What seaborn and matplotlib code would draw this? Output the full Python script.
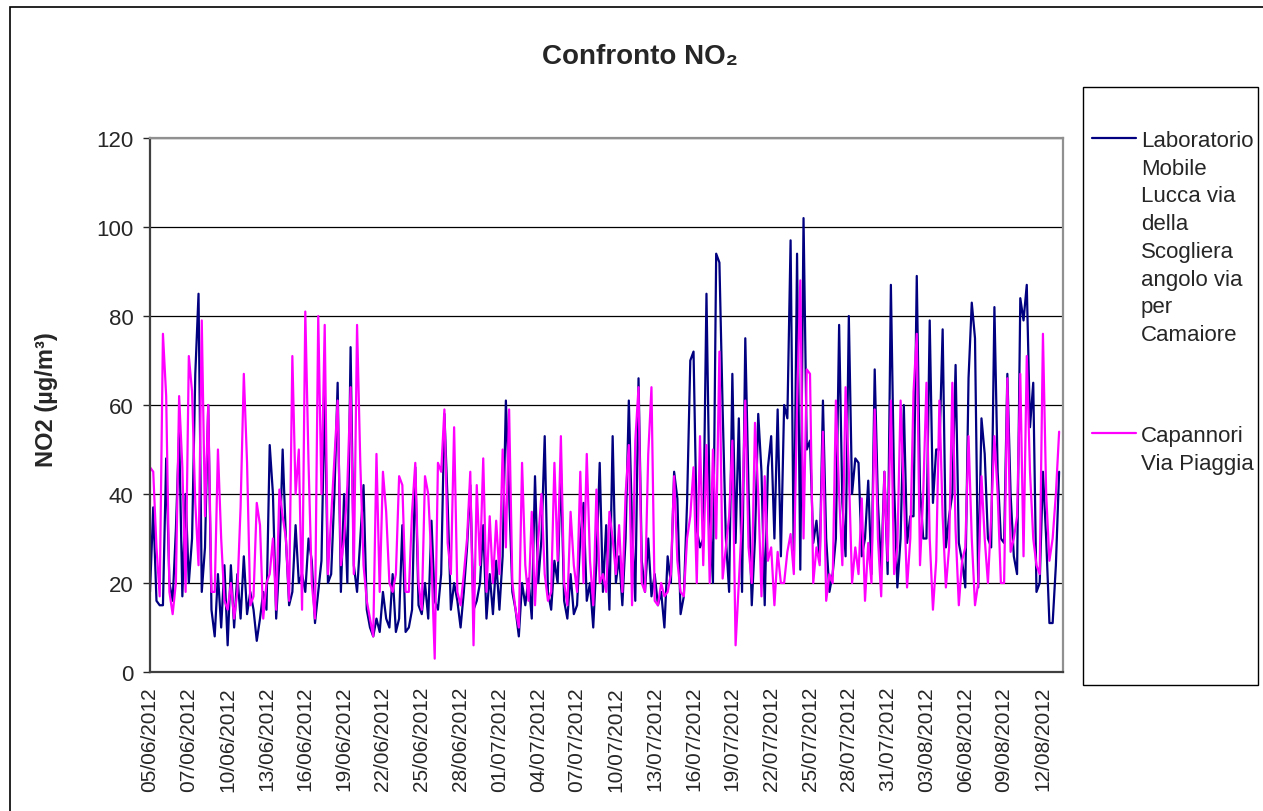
import matplotlib

matplotlib.use("Agg")
import matplotlib.pyplot as plt  # noqa: E402
import numpy as np  # noqa: E402
import pandas as pd  # noqa: E402
import seaborn as sns  # noqa: E402
from matplotlib.patches import Rectangle  # noqa: E402

# NO2 (ug/m3), four readings per day (every 6 h), 05/06 -> 14/08/2012
lab_lucca = [
    18, 37, 16, 15, 15, 48, 20, 16, 32, 54, 17, 40, 20, 30, 67, 85,
    18, 28, 60, 14, 8, 22, 10, 24, 6, 24, 10, 22, 12, 26, 13, 18,
    14, 7, 12, 18, 14, 51, 40, 12, 25, 50, 30, 15, 18, 33, 20, 22,
    18, 30, 25, 11, 18, 25, 63, 20, 22, 40, 65, 18, 40, 20, 73, 24,
    18, 30, 42, 14, 10, 8, 12, 9, 18, 12, 10, 22, 9, 12, 33, 9,
    10, 14, 46, 15, 13, 20, 12, 34, 16, 14, 22, 58, 38, 14, 20, 16,
    10, 18, 28, 42, 14, 16, 20, 33, 12, 22, 13, 25, 14, 26, 61, 40,
    18, 14, 8, 20, 15, 21, 12, 44, 20, 30, 53, 18, 14, 25, 20, 46,
    16, 12, 22, 13, 15, 30, 38, 16, 20, 10, 25, 47, 18, 33, 14, 53,
    20, 26, 15, 30, 61, 33, 16, 66, 25, 18, 30, 17, 22, 15, 18, 10,
    26, 20, 45, 39, 13, 17, 38, 70, 72, 32, 28, 30, 85, 36, 20, 94,
    92, 59, 30, 18, 67, 29, 57, 18, 75, 41, 15, 30, 58, 45, 15, 46,
    53, 30, 59, 26, 60, 57, 97, 24, 94, 23, 102, 50, 52, 29, 34, 25,
    61, 30, 18, 22, 30, 78, 38, 26, 80, 40, 48, 47, 26, 30, 43, 22,
    68, 38, 23, 45, 22, 87, 42, 19, 30, 60, 29, 35, 35, 89, 41, 30,
    30, 79, 38, 50, 50, 77, 28, 35, 40, 69, 29, 25, 19, 66, 83, 75,
    19, 57, 49, 30, 28, 82, 45, 30, 29, 67, 40, 26, 22, 84, 79, 87,
    55, 65, 18, 20, 45, 30, 11, 11, 24, 45,
]
capannori = [
    46, 45, 28, 17, 76, 62, 18, 13, 20, 62, 46, 18, 71, 63, 38, 24,
    79, 35, 60, 18, 18, 50, 30, 16, 14, 20, 12, 18, 37, 67, 47, 15,
    17, 38, 33, 12, 20, 22, 30, 14, 41, 35, 30, 16, 71, 40, 50, 14,
    81, 47, 20, 12, 80, 40, 78, 22, 35, 48, 61, 24, 30, 42, 64, 22,
    78, 47, 24, 16, 12, 8, 49, 18, 45, 36, 20, 18, 22, 44, 42, 18,
    18, 36, 47, 20, 14, 44, 40, 25, 3, 47, 45, 59, 29, 22, 55, 18,
    15, 22, 30, 45, 6, 42, 24, 48, 18, 35, 20, 34, 22, 50, 28, 59,
    20, 14, 10, 47, 24, 16, 36, 15, 30, 40, 22, 16, 18, 47, 25, 53,
    20, 15, 36, 24, 18, 45, 20, 49, 25, 15, 41, 20, 22, 18, 36, 30,
    22, 33, 18, 40, 51, 15, 52, 64, 20, 18, 49, 64, 16, 15, 20, 17,
    18, 22, 44, 25, 18, 17, 30, 35, 46, 20, 53, 24, 51, 20, 50, 30,
    72, 21, 28, 35, 52, 6, 20, 35, 61, 28, 20, 56, 40, 17, 44, 25,
    28, 15, 27, 20, 20, 27, 31, 22, 60, 88, 30, 68, 67, 20, 28, 24,
    54, 16, 22, 20, 61, 40, 24, 64, 45, 20, 28, 22, 39, 16, 29, 20,
    59, 30, 17, 45, 25, 61, 22, 28, 61, 40, 19, 30, 63, 76, 24, 40,
    65, 30, 14, 25, 61, 35, 19, 28, 65, 32, 15, 25, 28, 53, 30, 15,
    20, 44, 30, 20, 35, 53, 40, 20, 20, 66, 27, 30, 35, 67, 26, 71,
    45, 30, 24, 22, 76, 40, 25, 30, 40, 54,
]
tick_labels = [
    "05/06/2012", "07/06/2012", "10/06/2012", "13/06/2012", "16/06/2012",
    "19/06/2012", "22/06/2012", "25/06/2012", "28/06/2012", "01/07/2012",
    "04/07/2012", "07/07/2012", "10/07/2012", "13/07/2012", "16/07/2012",
    "19/07/2012", "22/07/2012", "25/07/2012", "28/07/2012", "31/07/2012",
    "03/08/2012", "06/08/2012", "09/08/2012", "12/08/2012",
]
series_names = [
    "Laboratorio\nMobile\nLucca via\ndella\nScogliera\nangolo via\nper\nCamaiore",
    "Capannori\nVia Piaggia",
]
colours = ["#000080", "#FF00FF"]
samples_per_tick = 12  # one label every 3 days

frames = [
    pd.DataFrame({"sample": np.arange(len(v)), "no2": v, "series": name})
    for name, v in zip(series_names, [lab_lucca, capannori])
]
df = pd.concat(frames, ignore_index=True)

sns.set_style("white")
plt.rcParams["font.family"] = ["Liberation Sans", "DejaVu Sans"]

W, H = 1263, 812
fig = plt.figure(figsize=(W / 100, H / 100), dpi=100)
ax = fig.add_axes([150 / W, 1 - 673 / H, (1063 - 150) / W, (673 - 139) / H])

sns.lineplot(
    data=df, x="sample", y="no2", hue="series", hue_order=series_names,
    palette=dict(zip(series_names, colours)), estimator=None, sort=False,
    linewidth=1.6, legend=False, ax=ax,
)

ax.set_xlim(0, 282.2)
ax.set_ylim(0, 120)
ax.set_yticks(range(0, 121, 20))
ax.set_xticks(np.arange(len(tick_labels)) * samples_per_tick)
ax.set_xticklabels(tick_labels, rotation=90)
ax.set_xlabel("")
ax.set_ylabel("")
ax.yaxis.grid(True, color="black", linewidth=0.9)
ax.xaxis.grid(False)
ax.tick_params(axis="y", direction="out", length=5, width=1, pad=7, labelsize=16, left=True)
ax.tick_params(axis="x", length=0, pad=10, labelsize=15)
for side in ["left", "bottom"]:
    ax.spines[side].set_color("#404040")
    ax.spines[side].set_linewidth(1.6)
for side in ["top", "right"]:
    ax.spines[side].set_visible(True)
    ax.spines[side].set_color("#909090")
    ax.spines[side].set_linewidth(1.6)

fig.text(640 / W, 1 - 57 / H, "Confronto NO\u2082", ha="center", va="center",
         fontsize=20, fontweight="bold")
fig.text(46 / W, 1 - 400 / H, "NO2 (\u00b5g/m\u00b3)", ha="center", va="center",
         rotation=90, fontsize=17, fontweight="bold")

# outer chart border and legend frame
fig.patches.append(Rectangle((10 / W, -0.1), 1.1, 1.1 - 8 / H, transform=fig.transFigure,
                             fill=False, edgecolor="black", linewidth=1.2))
fig.patches.append(Rectangle((1083 / W, 1 - 686 / H), (1258 - 1083) / W, (686 - 88) / H,
                             transform=fig.transFigure, fill=False,
                             edgecolor="black", linewidth=1.0))

leg = fig.legend(
    handles=ax.get_lines()[:2], labels=series_names, loc="upper left",
    bbox_to_anchor=(1092 / W, 1 - 131 / H), frameon=False, fontsize=16,
    handlelength=2.0, handletextpad=0.2, labelspacing=3.6,
    borderpad=0, borderaxespad=0,
)
for text in leg.get_texts():
    text.set_linespacing(1.42)
for column in leg._legend_handle_box.get_children():
    for row in column.get_children():
        row.align = "top"

fig.savefig("out.png", dpi=100)
